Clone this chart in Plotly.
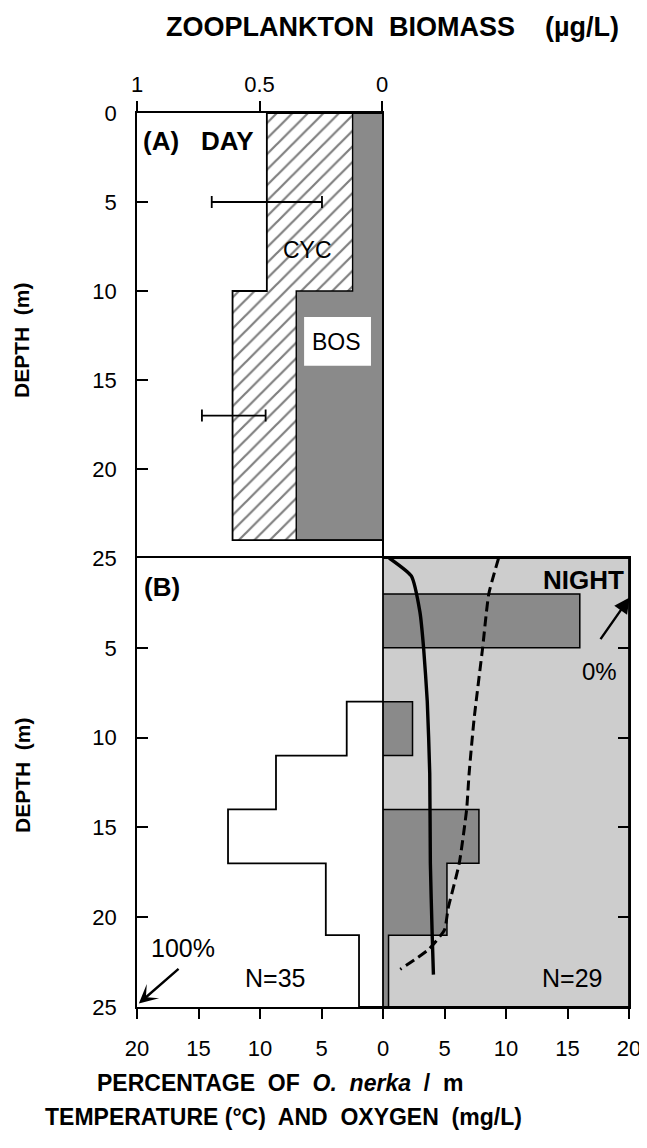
import plotly.graph_objects as go

# ---------------- Panel A: zooplankton biomass (ug/L) during the day ----------------
zoo_top = [0, 10]          # depth bin tops (m)
zoo_bottom = [10, 24]      # depth bin bottoms (m)
bos_biomass = [0.12, 0.35] # Bosmina
cyc_biomass = [0.35, 0.26] # Cyclopoids
err_depth = [5, 17]
err_total = [0.47, 0.605]
err_half = [0.225, 0.13]

# ---------------- Panel B: O. nerka distribution (% per m) ----------------
day_top = [8, 11, 14, 17, 21]
day_bottom = [11, 14, 17, 21, 25]
day_pct = [2.95, 8.7, 12.6, 4.65, 1.95]

night_top = [2, 8, 14, 17, 21]
night_bottom = [5, 11, 17, 21, 25]
night_pct = [16.0, 2.4, 7.8, 5.2, 0.45]

temp_depth = [0, 1, 3, 5, 8, 12, 17, 21, 23.2]
temp_c = [0.5, 2.3, 3.0, 3.3, 3.6, 3.8, 3.85, 4.0, 4.1]
oxy_depth = [0, 2, 5, 9, 12, 14, 17, 19.5, 20.7, 21.8, 22.9]
oxy_mgl = [9.4, 8.6, 8.1, 7.4, 7.0, 6.8, 6.2, 5.3, 5.0, 3.7, 1.4]

x_ticks_b = [-20, -15, -10, -5, 0, 5, 10, 15, 20]

FONT = "Liberation Sans, Arial, Helvetica, sans-serif"
GRAY = "#8a8a8a"
LIGHT = "#cdcdcd"


def step_outline(tops, bottoms, vals, sign=1.0):
    xs, ys = [0], [tops[0]]
    for i, (t, b, v) in enumerate(zip(tops, bottoms, vals)):
        if i > 0 and t != bottoms[i - 1]:
            xs += [0, None, 0]
            ys += [bottoms[i - 1], None, t]
        xs += [sign * v, sign * v]
        ys += [t, b]
    xs.append(0)
    ys.append(bottoms[-1])
    return xs, ys


fig = go.Figure()

# ---- Panel A bars ----
centers_a = [(t + b) / 2 for t, b in zip(zoo_top, zoo_bottom)]
widths_a = [b - t for t, b in zip(zoo_top, zoo_bottom)]
totals_a = [b + c for b, c in zip(bos_biomass, cyc_biomass)]

fig.add_trace(go.Bar(orientation="h", y=centers_a, x=bos_biomass, base=[0, 0],
                     width=widths_a, marker=dict(color=GRAY, line=dict(width=0)),
                     xaxis="x", yaxis="y", showlegend=False, hoverinfo="skip"))
fig.add_trace(go.Bar(orientation="h", y=centers_a, x=cyc_biomass, base=bos_biomass,
                     width=widths_a,
                     marker=dict(color="white", line=dict(width=0),
                                 pattern=dict(shape="/", fgcolor="black", bgcolor="white",
                                              size=11, solidity=0.2)),
                     xaxis="x", yaxis="y", showlegend=False, hoverinfo="skip"))
ox, oy = step_outline(zoo_top, zoo_bottom, totals_a)
fig.add_trace(go.Scatter(x=ox, y=oy, mode="lines", line=dict(color="black", width=1.8),
                         xaxis="x", yaxis="y", showlegend=False, hoverinfo="skip"))
bx, by = step_outline(zoo_top, zoo_bottom, bos_biomass)
fig.add_trace(go.Scatter(x=bx, y=by, mode="lines", line=dict(color="black", width=1.4),
                         xaxis="x", yaxis="y", showlegend=False, hoverinfo="skip"))
fig.add_trace(go.Scatter(x=err_total, y=err_depth, mode="markers",
                         marker=dict(size=1, color="rgba(0,0,0,0)"),
                         error_x=dict(type="data", array=err_half, symmetric=True,
                                      color="black", thickness=1.8, width=6),
                         xaxis="x", yaxis="y", showlegend=False, hoverinfo="skip"))

# ---- Panel B: day (left, white) ----
dx, dy = step_outline(day_top, day_bottom, day_pct, sign=-1.0)
fig.add_trace(go.Scatter(x=dx, y=dy, mode="lines", line=dict(color="black", width=1.8),
                         xaxis="x2", yaxis="y2", showlegend=False, hoverinfo="skip"))

# ---- Panel B: night (right, gray) ----
centers_n = [(t + b) / 2 for t, b in zip(night_top, night_bottom)]
widths_n = [b - t for t, b in zip(night_top, night_bottom)]
fig.add_trace(go.Bar(orientation="h", y=centers_n, x=night_pct, base=[0] * len(night_pct),
                     width=widths_n, marker=dict(color=GRAY, line=dict(width=0)),
                     xaxis="x2", yaxis="y2", showlegend=False, hoverinfo="skip"))
nx, ny = step_outline(night_top, night_bottom, night_pct)
fig.add_trace(go.Scatter(x=nx, y=ny, mode="lines", line=dict(color="black", width=1.5),
                         connectgaps=False,
                         xaxis="x2", yaxis="y2", showlegend=False, hoverinfo="skip"))

fig.add_trace(go.Scatter(x=temp_c, y=temp_depth, mode="lines",
                         line=dict(color="black", width=3.4, shape="spline", smoothing=0.5),
                         xaxis="x2", yaxis="y2", showlegend=False, hoverinfo="skip"))
fig.add_trace(go.Scatter(x=oxy_mgl, y=oxy_depth, mode="lines",
                         line=dict(color="black", width=3, dash="10px,5px", shape="spline",
                                   smoothing=0.5),
                         xaxis="x2", yaxis="y2", showlegend=False, hoverinfo="skip"))

top_frac = 449 / 894.0

axis_common = dict(showgrid=False, zeroline=False, showline=True, linecolor="black",
                   linewidth=1.8, tickcolor="black", tickwidth=1.8,
                   tickfont=dict(family=FONT, size=22, color="black"))

# page body has an 8px margin -> figure sized so that it fills the 647x1148 window
fig.update_layout(
    width=639, height=1140,
    margin=dict(l=129, r=18, t=105, b=141, autoexpand=False),
    paper_bgcolor="white", plot_bgcolor="rgba(0,0,0,0)",
    barmode="overlay", bargap=0,
    xaxis=dict(domain=[0, 245 / 492.0], range=[1, 0], side="top", anchor="y",
               tickvals=[1, 0.5, 0], ticktext=["1", "0.5", "0"], ticks="outside",
               ticklen=10, mirror=False, **axis_common),
    yaxis=dict(domain=[top_frac, 1], range=[25, 0], anchor="x",
               tickvals=[0, 5, 10, 15, 20, 25], ticks="inside", ticklen=11,
               mirror=True, ticklabelstandoff=14, **axis_common),
    xaxis2=dict(domain=[0, 1], range=[-20, 20], anchor="y2",
                tickvals=x_ticks_b, ticktext=[str(abs(v)) for v in x_ticks_b],
                ticks="outside", ticklen=10, mirror=True, ticklabelstandoff=11,
                **axis_common),
    yaxis2=dict(domain=[0, top_frac], range=[25, 0], anchor="x2",
                tickvals=[5, 10, 15, 20, 25], ticks="inside", ticklen=11,
                mirror="ticks", ticklabelstandoff=14, **axis_common),
)

# light gray night background and its frame
fig.add_shape(type="rect", xref="x2", yref="y2", x0=0, x1=20, y0=0, y1=25,
              fillcolor=LIGHT, line=dict(width=0), layer="below")
fig.add_shape(type="rect", xref="x2", yref="y2", x0=0, x1=20, y0=0, y1=25,
              fillcolor="rgba(0,0,0,0)", line=dict(color="black", width=1.8), layer="above")
# BOS label box
fig.add_shape(type="rect", xref="x", yref="y", x0=0.318, x1=0.045, y0=11.46, y1=14.2,
              fillcolor="white", line=dict(width=0), layer="above")


def txt(text, x, y, xref, yref, size=22, bold=False, xanchor="center", **kw):
    t = f"<b>{text}</b>" if bold else text
    fig.add_annotation(text=t, x=x, y=y, xref=xref, yref=yref, showarrow=False,
                       xanchor=xanchor, yanchor="middle",
                       font=dict(family=FONT, size=size, color="black"), **kw)


# Panel A labels
txt("(A)", 0.984, 1.6, "x", "y", size=26, bold=True, xanchor="left")
txt("DAY", 0.63, 1.6, "x", "y", size=26, bold=True)
txt("CYC", 0.306, 7.7, "x", "y", size=23)
txt("BOS", 0.184, 12.85, "x", "y", size=23)

# Panel B labels
txt("(B)", -19.6, 1.6, "x2", "y2", size=26, bold=True, xanchor="left")
txt("NIGHT", 19.75, 1.2, "x2", "y2", size=26, bold=True, xanchor="right")
txt("0%", 17.6, 6.3, "x2", "y2", size=24)
txt("N=29", 15.4, 23.4, "x2", "y2", size=25)
txt("N=35", -8.8, 23.4, "x2", "y2", size=25)
txt("100%", -16.3, 21.7, "x2", "y2", size=25)

fig.add_annotation(x=20.05, y=2.2, ax=17.6, ay=4.6, xref="x2", yref="y2",
                   axref="x2", ayref="y2", text="", showarrow=True,
                   arrowhead=2, arrowsize=1.3, arrowwidth=2.4, arrowcolor="black")
fig.add_annotation(x=-19.85, y=24.8, ax=-16.5, ay=22.8, xref="x2", yref="y2",
                   axref="x2", ayref="y2", text="", showarrow=True,
                   arrowhead=3, arrowsize=1.3, arrowwidth=2.4, arrowcolor="black")


# Axis titles (positions given in window pixels, converted to paper fractions)
def ptxt(text, px, py, size=21, angle=0):
    fig.add_annotation(text=text, x=(px - 137) / 492.0, y=(1007 - py) / 894.0,
                       xref="paper", yref="paper", showarrow=False, textangle=angle,
                       xanchor="center", yanchor="middle",
                       font=dict(family=FONT, size=size, color="black"))


ptxt("<b>ZOOPLANKTON  BIOMASS    (µg/L)</b>", 392, 27, size=27)
ptxt("<b>DEPTH  (m)</b>", 22, 340, size=21, angle=-90)
ptxt("<b>DEPTH  (m)</b>", 22, 775, size=21, angle=-90)
ptxt("<b>PERCENTAGE  OF  <i>O.  nerka</i>  /  m</b>", 280, 1083, size=23)
ptxt("<b>TEMPERATURE (°C)  AND  OXYGEN  (mg/L)</b>", 283, 1117, size=23)

fig.write_html("out.html")
